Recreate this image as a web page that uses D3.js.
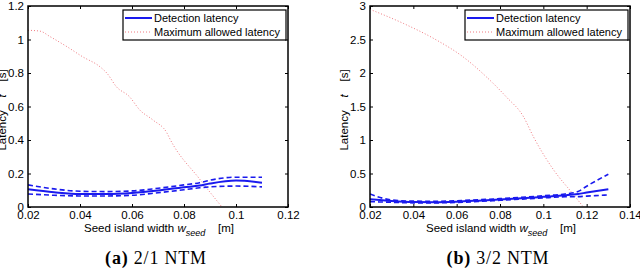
<!DOCTYPE html>
<html>
<head>
<meta charset="utf-8">
<script src="https://cdn.jsdelivr.net/npm/d3@7"></script>
<style>
  body { margin: 0; background: #fff; }
  svg { display: block; }
  .tick text { font-family: "Liberation Sans", Arial, sans-serif; font-size: 11.5px; fill: #000; }
  .lbl { font-family: "Liberation Sans", Arial, sans-serif; font-size: 11.5px; fill: #000; }
  .leg { font-family: "Liberation Sans", Arial, sans-serif; font-size: 11px; fill: #000; }
  .cap { font-family: "Liberation Serif", "Times New Roman", serif; font-size: 18px; fill: #000; letter-spacing: 0.8px; }
</style>
</head>
<body>
<div id="chart"></div>
<script>
// ---- data: (a) 2/1 NTM ----
const xA = [0.02, 0.03, 0.04, 0.05, 0.06, 0.07, 0.08, 0.086, 0.09, 0.1, 0.11];
const detA = [0.106, 0.088, 0.077, 0.077, 0.083, 0.098, 0.118, 0.128, 0.14, 0.158, 0.145];
const detA_hi = [0.132, 0.108, 0.094, 0.092, 0.096, 0.112, 0.132, 0.145, 0.16, 0.178, 0.178];
const detA_lo = [0.078, 0.07, 0.066, 0.066, 0.07, 0.085, 0.103, 0.115, 0.12, 0.125, 0.12];
const maxXA = [0.02, 0.0246, 0.0285, 0.035, 0.041, 0.0477, 0.0504, 0.054, 0.059, 0.063, 0.068, 0.0735, 0.0746, 0.086, 0.0946];
const maxA = [1.055, 1.05, 1.017, 0.957, 0.897, 0.837, 0.798, 0.718, 0.659, 0.579, 0.52, 0.44, 0.406, 0.167, 0.0];

// ---- data: (b) 3/2 NTM ----
const xB = [0.02, 0.03, 0.04, 0.05, 0.06, 0.07, 0.08, 0.09, 0.1, 0.11, 0.116, 0.12, 0.13];
const detB = [0.115, 0.09, 0.075, 0.072, 0.08, 0.095, 0.112, 0.13, 0.152, 0.175, 0.194, 0.215, 0.264];
const detB_hi = [0.194, 0.105, 0.088, 0.086, 0.094, 0.108, 0.125, 0.145, 0.168, 0.195, 0.23, 0.31, 0.49];
const detB_lo = [0.08, 0.07, 0.062, 0.062, 0.068, 0.082, 0.1, 0.118, 0.136, 0.152, 0.155, 0.162, 0.18];
const maxXB = [0.02, 0.0354, 0.0508, 0.063, 0.0738, 0.083, 0.0908, 0.0954, 0.1046, 0.1138, 0.1185];
const maxB = [2.95, 2.74, 2.49, 2.24, 1.94, 1.64, 1.35, 1.05, 0.56, 0.19, 0.0];

const xTicksA = [0.02, 0.04, 0.06, 0.08, 0.1, 0.12];
const yTicksA = [0, 0.2, 0.4, 0.6, 0.8, 1, 1.2];
const xTicksB = [0.02, 0.04, 0.06, 0.08, 0.1, 0.12, 0.14];
const yTicksB = [0, 0.5, 1, 1.5, 2, 2.5, 3];

const W = 640, H = 272;
const NB = "\u00a0";
const svg = d3.select("#chart").append("svg").attr("width", W).attr("height", H);

function panel(opt) {
  // plot box
  const x = d3.scaleLinear().domain(opt.xDom).range([opt.left, opt.left + 260]);
  const y = d3.scaleLinear().domain(opt.yDom).range([207, 6]);
  const g = svg.append("g");

  const fmt = d => String(+d.toFixed(3));

  // axes, ticks inward on all four sides
  g.append("g").attr("transform", "translate(0,207)")
    .call(d3.axisBottom(x).tickValues(opt.xTicks).tickSize(-3).tickPadding(4).tickFormat(fmt))
    .call(a => a.select(".domain").remove());
  g.append("g").attr("transform", "translate(0,6)")
    .call(d3.axisTop(x).tickValues(opt.xTicks).tickSize(-3).tickFormat(""))
    .call(a => a.select(".domain").remove());
  g.append("g").attr("transform", `translate(${opt.left},0)`)
    .call(d3.axisLeft(y).tickValues(opt.yTicks).tickSize(-3).tickPadding(4).tickFormat(fmt))
    .call(a => a.select(".domain").remove());
  g.append("g").attr("transform", `translate(${opt.left + 260},0)`)
    .call(d3.axisRight(y).tickValues(opt.yTicks).tickSize(-3).tickFormat(""))
    .call(a => a.select(".domain").remove());
  g.selectAll(".tick line").attr("stroke", "#000").attr("stroke-width", 1);

  // clip
  const cid = "clip" + opt.left;
  svg.append("clipPath").attr("id", cid).append("rect")
    .attr("x", opt.left).attr("y", 6).attr("width", 260).attr("height", 201);
  const plot = g.append("g").attr("clip-path", `url(#${cid})`);

  const line = (xs, ys) => d3.line().curve(d3.curveMonotoneX)
    .x((d, i) => x(xs[i])).y(d => y(d))(ys);

  plot.append("path").attr("d", line(opt.mx, opt.max))
    .attr("fill", "none").attr("stroke", "#f07a80").attr("stroke-width", 1)
    .attr("stroke-dasharray", "1,2");
  [opt.hi, opt.lo].forEach(s => plot.append("path").attr("d", line(opt.xs, s))
    .attr("fill", "none").attr("stroke", "#1a1aee").attr("stroke-width", 1.6)
    .attr("stroke-dasharray", "5,3"));
  plot.append("path").attr("d", line(opt.xs, opt.det))
    .attr("fill", "none").attr("stroke", "#1a1aee").attr("stroke-width", 2);

  // frame
  g.append("rect").attr("x", opt.left).attr("y", 6).attr("width", 260).attr("height", 201)
    .attr("fill", "none").attr("stroke", "#000").attr("stroke-width", 1.5);

  // legend
  const lx = opt.left + 95, ly = 10;
  const lg = g.append("g");
  lg.append("rect").attr("x", lx).attr("y", ly).attr("width", 163).attr("height", 30)
    .attr("fill", "#fff").attr("stroke", "#000").attr("stroke-width", 1.2);
  lg.append("line").attr("x1", lx + 2).attr("x2", lx + 29).attr("y1", ly + 8).attr("y2", ly + 8)
    .attr("stroke", "#1a1aee").attr("stroke-width", 2);
  lg.append("line").attr("x1", lx + 2).attr("x2", lx + 29).attr("y1", ly + 22).attr("y2", ly + 22)
    .attr("stroke", "#f07a80").attr("stroke-width", 1).attr("stroke-dasharray", "1,2");
  lg.append("text").attr("class", "leg").attr("x", lx + 31).attr("y", ly + 12).text("Detection latency");
  lg.append("text").attr("class", "leg").attr("x", lx + 31).attr("y", ly + 26).text("Maximum allowed latency");

  // y label
  const yl = g.append("text").attr("class", "lbl").attr("text-anchor", "middle")
    .attr("transform", `translate(${opt.left - 22},110) rotate(-90)`);
  yl.append("tspan").text("Latency" + NB.repeat(4));
  yl.append("tspan").attr("font-style", "italic").text("t");
  yl.append("tspan").text(NB.repeat(4) + "[s]");

  // x label
  const xl = g.append("text").attr("class", "lbl").attr("text-anchor", "middle")
    .attr("x", opt.left + 131).attr("y", 232);
  xl.append("tspan").text("Seed island width ");
  xl.append("tspan").attr("font-style", "italic").text("w");
  xl.append("tspan").attr("font-style", "italic").attr("font-size", 9).attr("dy", 4).text("seed");
  xl.append("tspan").attr("dy", -4).text(NB.repeat(4) + "[m]");

  // caption
  const cp = g.append("text").attr("class", "cap").attr("text-anchor", "middle")
    .attr("x", opt.left + 128).attr("y", 264);
  cp.append("tspan").attr("font-weight", "bold").text(opt.capA);
  cp.append("tspan").text(" " + opt.capB);
}

panel({ left: 28, xDom: [0.02, 0.12], yDom: [0, 1.2], xTicks: xTicksA, yTicks: yTicksA,
  xs: xA, det: detA, hi: detA_hi, lo: detA_lo, mx: maxXA, max: maxA, capA: "(a)", capB: "2/1 NTM" });
panel({ left: 370, xDom: [0.02, 0.14], yDom: [0, 3], xTicks: xTicksB, yTicks: yTicksB,
  xs: xB, det: detB, hi: detB_hi, lo: detB_lo, mx: maxXB, max: maxB, capA: "(b)", capB: "3/2 NTM" });
</script>
</body>
</html>
